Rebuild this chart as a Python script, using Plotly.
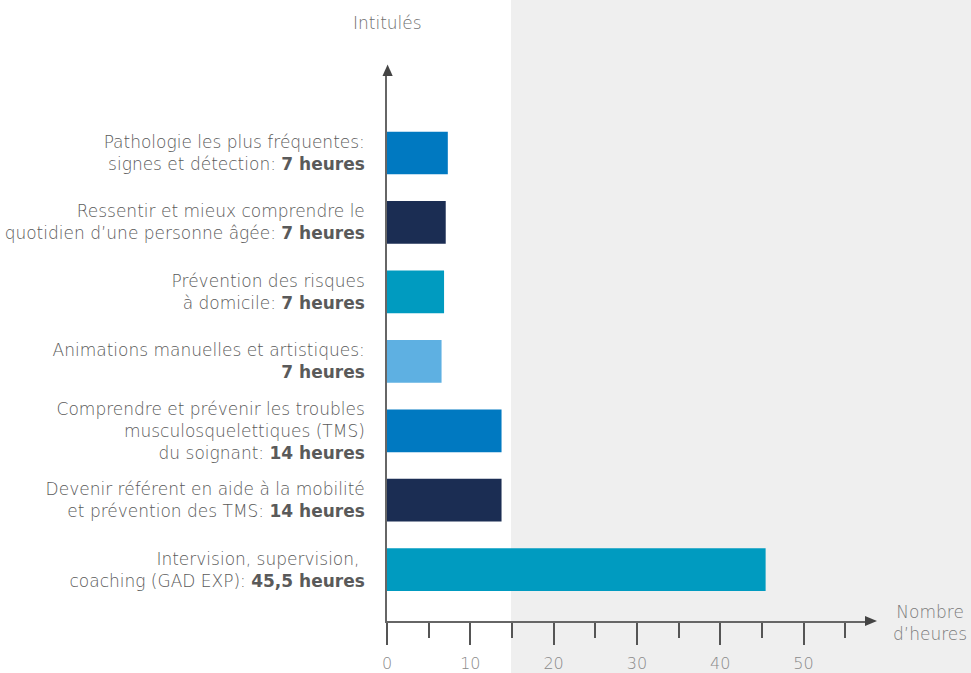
import plotly.graph_objects as go

labels = [
    "Pathologie les plus fréquentes:<br>signes et détection: <b>7 heures</b>",
    "Ressentir et mieux comprendre le<br>quotidien d’une personne âgée: <b>7 heures</b>",
    "Prévention des risques<br>à domicile: <b>7 heures</b>",
    "Animations manuelles et artistiques:<br><b>7 heures</b>",
    "Comprendre et prévenir les troubles<br>musculosquelettiques (TMS)<br>du soignant: <b>14 heures</b>",
    "Devenir référent en aide à la mobilité<br>et prévention des TMS: <b>14 heures</b>",
    "Intervision, supervision, <br>coaching (GAD EXP): <b>45,5 heures</b>",
]
hours = [7.3, 7.05, 6.85, 6.55, 13.75, 13.75, 45.45]
colors = ["#0079c1", "#1b2d53", "#009bc0", "#5eb0e2", "#0079c1", "#1b2d53", "#009bc0"]
x_ticks = [0, 10, 20, 30, 40, 50]

W, H = 971, 673
L, R, T, B = 387, 105, 75, 52
pw, ph = W - L - R, H - T - B

def px(x):
    return (x - L) / pw

def py(y):
    return (H - B - y) / ph

fig = go.Figure(go.Bar(
    x=hours, y=labels, orientation="h",
    marker=dict(color=colors, line=dict(width=0)),
    width=0.615, hoverinfo="x+y",
))

font_family = "'DejaVu Sans', 'Open Sans', sans-serif"

fig.update_layout(
    width=W, height=H,
    margin=dict(l=L, r=R, t=T, b=B, pad=0, autoexpand=False),
    paper_bgcolor="white", plot_bgcolor="rgba(0,0,0,0)",
    showlegend=False,
    font=dict(family=font_family, color="#5a5a5a", size=16, weight=300),
    xaxis=dict(
        range=[0, 57.5], tickvals=x_ticks, ticks="outside", ticklen=22,
        tickwidth=1.8, tickcolor="#555555", showgrid=False, zeroline=False,
        showline=True, linecolor="#666666", linewidth=1.5, automargin=False,
        tickfont=dict(size=16, color="#8a8a8a"), ticklabelstandoff=5,
        minor=dict(dtick=5, tick0=0, ticks="outside", ticklen=15,
                   tickwidth=1.8, tickcolor="#555555", showgrid=False),
        fixedrange=True,
    ),
    yaxis=dict(
        categoryorder="array", categoryarray=labels,
        range=[6.739, -1.123], showgrid=False, zeroline=False,
        showline=True, linecolor="#666666", linewidth=1.5, automargin=False,
        ticks="", ticklabelstandoff=17,
        tickfont=dict(size=17, color="#5a5a5a"),
        fixedrange=True,
    ),
    shapes=[
        dict(type="rect", xref="paper", yref="paper",
             x0=px(511), x1=px(W + 5), y0=py(H + 5), y1=py(-5),
             fillcolor="#efefef", line=dict(width=0), layer="below"),
        dict(type="path", xref="paper", yref="paper",
             path=f"M {px(382.5)} {py(76)} L {px(387.6)} {py(64.5)} L {px(392.7)} {py(76)} Z",
             fillcolor="#444444", line=dict(width=0)),
        dict(type="path", xref="paper", yref="paper",
             path=f"M {px(865)} {py(616)} L {px(877)} {py(621)} L {px(865)} {py(626)} Z",
             fillcolor="#444444", line=dict(width=0)),
    ],
    annotations=[
        dict(text="Intitulés", xref="paper", yref="paper", x=px(387), y=py(23),
             xanchor="center", yanchor="middle", showarrow=False,
             font=dict(size=17, color="#6e6e6e")),
        dict(text="Nombre<br>d’heures", xref="paper", yref="paper", x=px(930), y=py(623),
             xanchor="center", yanchor="middle", align="center", showarrow=False,
             font=dict(size=17, color="#7a7a7a")),
    ],
)

fig.write_html("out.html", config={"displayModeBar": False},
               post_script="document.body.style.margin='0';document.body.style.overflow='hidden';")
